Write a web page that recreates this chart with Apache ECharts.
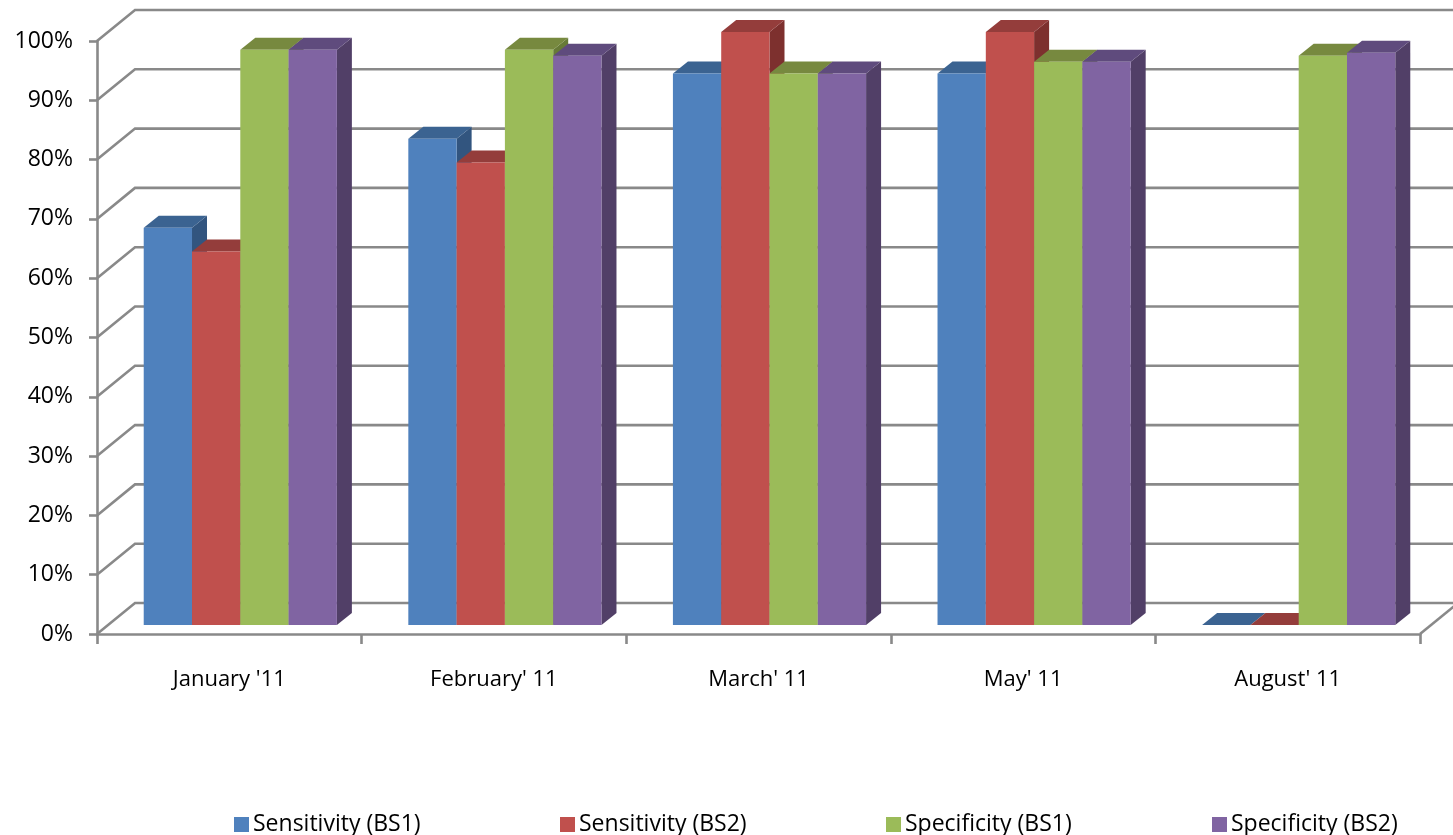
<!DOCTYPE html>
<html>
<head>
<meta charset="utf-8">
<title>Sensitivity and Specificity</title>
<script src="https://cdn.jsdelivr.net/npm/echarts@6/dist/echarts.min.js"></script>
<style>
  html, body { margin: 0; padding: 0; background: #ffffff; }
  #chart { width: 1453px; height: 835px; }
</style>
</head>
<body>
<div id="chart"></div>
<script>
// Months on the category axis
const categories = ["January '11", "February' 11", "March' 11", "May' 11", "August' 11"];

// Series values (fraction of 1)
const sensitivityBS1 = [0.67, 0.82, 0.93, 0.93, 0.00];
const sensitivityBS2 = [0.63, 0.78, 1.00, 1.00, 0.00];
const specificityBS1 = [0.97, 0.97, 0.93, 0.95, 0.96];
const specificityBS2 = [0.97, 0.96, 0.93, 0.95, 0.965];

const seriesNames = ['Sensitivity (BS1)', 'Sensitivity (BS2)', 'Specificity (BS1)', 'Specificity (BS2)'];
const seriesValues = [sensitivityBS1, sensitivityBS2, specificityBS1, specificityBS2];

// Value-axis ticks
const yTicks = [0, 0.1, 0.2, 0.3, 0.4, 0.5, 0.6, 0.7, 0.8, 0.9, 1.0];

// Face colours: front, top, side
const frontColors = ['#4F81BD', '#C0504D', '#9BBB59', '#8064A2'];
const topColors   = ['#3B6391', '#943D3B', '#77893F', '#5F4B7D'];
const sideColors  = ['#32557F', '#7D302E', '#677A37', '#513F67'];

const FONT = '"Open Sans", "Noto Sans", sans-serif';
const GRID_COLOR = '#898989';

// 3D projection offsets (pixels)
const WALL_DEPTH = [38, -31];   // front axis plane -> back wall
const BAR_DEPTH = [15, -12];    // bar thickness
const BAR_FRACTION = 0.1825;    // one bar's width as share of a category band

const chart = echarts.init(document.getElementById('chart'), null, { renderer: 'canvas' });

function barRenderer(k) {
  return function (params, api) {
    const cat = api.value(0);
    const v = api.value(1);
    const base = api.coord([cat, 0]);
    const topPt = api.coord([cat, v]);
    const band = api.size([1, 0])[0];
    const bw = band * BAR_FRACTION;
    const x0 = base[0] + (k - 2) * bw;
    const x1 = x0 + bw;
    const yb = base[1];
    const yt = topPt[1];
    const dx = BAR_DEPTH[0], dy = BAR_DEPTH[1];
    return {
      type: 'group',
      children: [
        {
          type: 'polygon',
          shape: { points: [[x1, yt], [x1 + dx, yt + dy], [x1 + dx, yb + dy], [x1, yb]] },
          style: { fill: sideColors[k] }
        },
        {
          type: 'polygon',
          shape: { points: [[x0, yt], [x0 + dx, yt + dy], [x1 + dx, yt + dy], [x1, yt]] },
          style: { fill: topColors[k] }
        },
        {
          type: 'rect',
          shape: { x: x0, y: yt, width: bw, height: Math.max(yb - yt, 0) },
          style: { fill: frontColors[k] }
        }
      ]
    };
  };
}

function wallRenderer(params, api) {
  const v = api.value(1);
  const p = api.coord([0, v]);
  const band = api.size([1, 0])[0];
  const xL = p[0] - band / 2;
  const xR = xL + band * categories.length;
  const y = p[1];
  const dx = WALL_DEPTH[0], dy = WALL_DEPTH[1];
  const children = [{
    type: 'polyline',
    shape: { points: [[xL, y], [xL + dx, y + dy], [xR + dx + 40, y + dy]] },
    style: { stroke: GRID_COLOR, lineWidth: 2.6, fill: null }
  }];
  if (v === 0) {
    children.push({
      type: 'line',
      shape: { x1: xR, y1: y, x2: xR + dx, y2: y + dy },
      style: { stroke: GRID_COLOR, lineWidth: 2.6 }
    });
  }
  return { type: 'group', children: children };
}

const series = [{
  type: 'custom',
  name: 'wall',
  xAxisIndex: 1,
  yAxisIndex: 1,
  z: 1,
  silent: true,
  renderItem: wallRenderer,
  data: yTicks.map(t => [0, t])
}];

seriesNames.forEach((name, k) => {
  series.push({
    type: 'custom',
    name: name,
    xAxisIndex: 0,
    yAxisIndex: 0,
    z: 3,
    itemStyle: { color: frontColors[k] },
    renderItem: barRenderer(k),
    data: seriesValues[k].map((v, i) => [i, v])
  });
});

const legendX = [229, 555, 881, 1207];
const legends = seriesNames.map((name, k) => ({
  data: [name],
  left: legendX[k],
  top: 808,
  orient: 'horizontal',
  icon: 'rect',
  itemWidth: 15,
  itemHeight: 15,
  itemGap: 4,
  selectedMode: false,
  textStyle: { fontFamily: FONT, fontSize: 23, color: '#000000', padding: [0, 0, 0, -1] }
}));

const option = {
  animation: false,
  backgroundColor: '#ffffff',
  grid: [
    // plane of the bars' front faces
    { left: 108, top: 32, width: 1323, height: 593 },
    // front axis plane
    { left: 97, top: 41, width: 1323, height: 593 }
  ],
  xAxis: [
    { type: 'category', gridIndex: 0, data: categories, show: false },
    {
      type: 'category', gridIndex: 1, data: categories,
      axisLine: { show: true, lineStyle: { color: GRID_COLOR, width: 2.6 } },
      axisTick: { show: true, length: 10, lineStyle: { color: GRID_COLOR, width: 2.6 } },
      axisLabel: { margin: 35, color: '#000000', fontFamily: FONT, fontSize: 22 },
      splitLine: { show: false }
    }
  ],
  yAxis: [
    { type: 'value', gridIndex: 0, min: 0, max: 1, interval: 0.1, show: false },
    {
      type: 'value', gridIndex: 1, min: 0, max: 1, interval: 0.1,
      axisLine: { show: true, lineStyle: { color: GRID_COLOR, width: 2.6 } },
      axisTick: { show: true, length: 8, lineStyle: { color: GRID_COLOR, width: 2.6 } },
      axisLabel: {
        margin: 24, color: '#000000', fontFamily: FONT, fontSize: 23,
        formatter: v => Math.round(v * 100) + '%'
      },
      splitLine: { show: false }
    }
  ],
  legend: legends,
  series: series
};

chart.setOption(option);
</script>
</body>
</html>
